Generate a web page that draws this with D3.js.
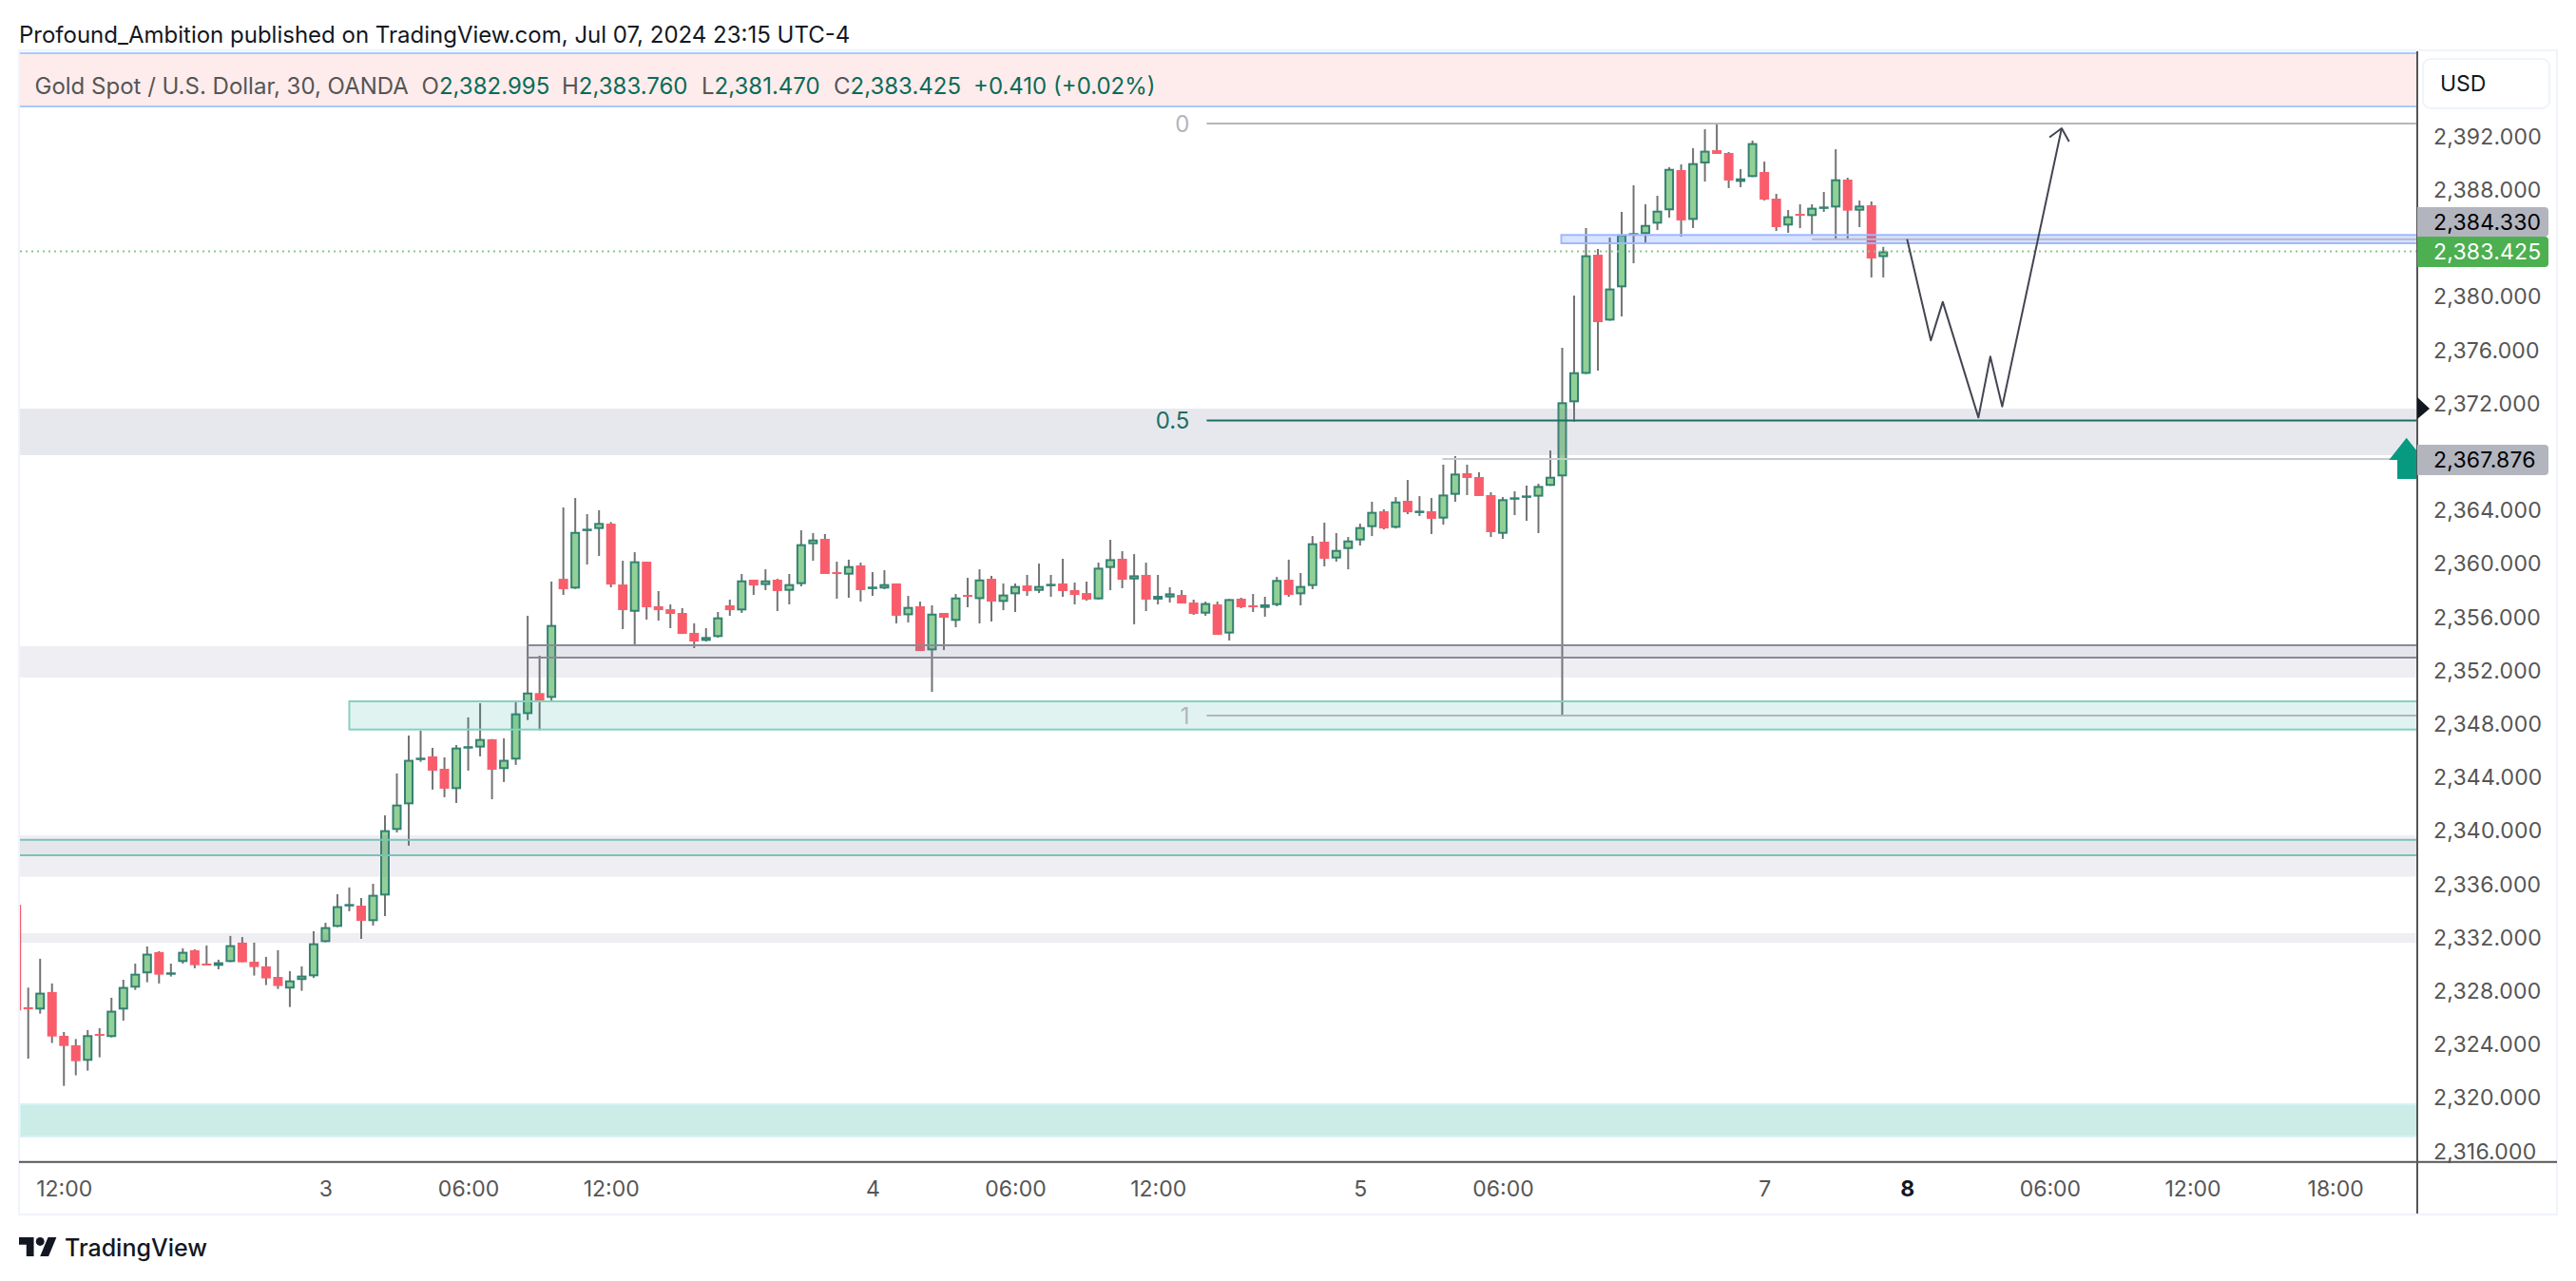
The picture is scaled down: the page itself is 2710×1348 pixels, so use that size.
<!DOCTYPE html>
<html>
<head>
<meta charset="utf-8">
<script src="https://cdn.jsdelivr.net/npm/d3@7"></script>
<style>
  html, body { margin: 0; background: #fff; }
  svg { display: block; }
  text { font-family: Inter, "Noto Sans", sans-serif; }
</style>
</head>
<body>
<div id="chart"></div>
<script>
// Bars run from index -1 (clipped at the left edge) to 156, 30 minutes each
const FIRST_BAR = -1;

const opens = [
  2334.49, 2326.81, 2326.64, 2327.95, 2324.67, 2323.96, 2322.80, 2324.81, 2324.58, 2326.64,
  2328.28, 2329.35, 2330.94, 2329.32, 2330.20, 2331.08, 2330.08, 2329.91, 2330.20, 2331.65,
  2330.22, 2329.87, 2329.08, 2328.21, 2328.85, 2329.13, 2331.69, 2332.83, 2334.45, 2334.42,
  2333.26, 2335.18, 2340.09, 2342.01, 2345.36, 2345.60, 2344.67, 2343.15, 2346.26, 2346.26,
  2346.88, 2344.65, 2345.36, 2348.77, 2350.34, 2349.98, 2358.90, 2358.17, 2362.58, 2362.63,
  2363.03, 2358.47, 2356.43, 2360.18, 2356.84, 2356.62, 2356.34, 2354.85, 2354.25, 2354.54,
  2356.91, 2356.53, 2358.83, 2358.43, 2358.83, 2358.00, 2358.50, 2361.49, 2361.89, 2359.40,
  2359.21, 2359.90, 2358.21, 2358.17, 2358.55, 2356.17, 2356.84, 2353.54, 2356.34, 2355.75,
  2357.69, 2357.38, 2358.90, 2357.17, 2357.74, 2358.40, 2358.00, 2358.43, 2358.55, 2358.05,
  2357.83, 2357.36, 2359.71, 2360.40, 2358.85, 2359.19, 2357.34, 2357.50, 2357.69, 2357.12,
  2356.29, 2356.98, 2354.80, 2357.41, 2356.91, 2356.72, 2356.93, 2358.83, 2357.74, 2358.36,
  2361.68, 2360.42, 2361.13, 2361.77, 2362.77, 2363.96, 2362.72, 2364.74, 2363.91, 2363.96,
  2363.41, 2365.19, 2366.81, 2366.52, 2365.17, 2362.27, 2364.86, 2365.07, 2365.05, 2365.86,
  2366.57, 2372.12, 2374.25, 2383.17, 2378.24, 2380.73, 2384.69, 2384.72, 2385.50, 2386.50,
  2389.51, 2385.78, 2390.01, 2391.00, 2390.79, 2388.63, 2388.99, 2389.37, 2387.37, 2385.36,
  2386.23, 2386.07, 2386.69, 2386.71, 2388.80, 2386.47, 2386.88, 2382.995,
];

const closes = [
  2326.57, 2326.66, 2327.90, 2324.62, 2323.91, 2322.77, 2324.72, 2324.69, 2326.55, 2328.33,
  2329.32, 2330.82, 2329.25, 2329.42, 2330.96, 2329.96, 2329.96, 2330.18, 2331.46, 2330.18,
  2329.82, 2328.97, 2328.40, 2328.82, 2329.18, 2331.60, 2332.81, 2334.38, 2334.54, 2333.28,
  2335.23, 2340.07, 2341.99, 2345.34, 2345.50, 2344.53, 2343.18, 2346.26, 2346.36, 2346.90,
  2344.60, 2345.34, 2348.82, 2350.38, 2349.79, 2355.44, 2358.12, 2362.41, 2362.65, 2363.08,
  2358.47, 2356.55, 2360.21, 2356.77, 2356.55, 2356.27, 2354.77, 2354.20, 2354.54, 2356.01,
  2356.55, 2358.78, 2358.40, 2358.78, 2357.98, 2358.50, 2361.49, 2361.84, 2359.26, 2359.26,
  2359.85, 2358.05, 2358.31, 2358.50, 2356.13, 2356.79, 2353.49, 2356.29, 2355.98, 2357.50,
  2357.55, 2358.85, 2357.19, 2357.72, 2358.36, 2357.98, 2358.36, 2358.52, 2357.98, 2357.69,
  2357.34, 2359.73, 2360.37, 2358.83, 2359.16, 2357.34, 2357.62, 2357.81, 2357.05, 2356.27,
  2357.08, 2354.70, 2357.38, 2356.77, 2356.77, 2356.98, 2358.81, 2357.69, 2358.36, 2361.56,
  2360.40, 2361.06, 2361.77, 2362.77, 2363.91, 2362.67, 2364.69, 2363.88, 2364.00, 2363.39,
  2365.21, 2366.78, 2366.45, 2365.10, 2362.39, 2364.86, 2365.00, 2365.14, 2365.85, 2366.54,
  2372.12, 2374.37, 2383.13, 2378.12, 2380.64, 2384.69, 2384.79, 2385.40, 2386.47, 2389.60,
  2385.74, 2390.03, 2390.96, 2390.72, 2388.73, 2388.89, 2391.53, 2387.30, 2385.24, 2386.05,
  2386.09, 2386.69, 2386.78, 2388.82, 2386.47, 2386.85, 2382.89, 2383.425,
];

const highs = [
  2334.49, 2328.28, 2330.44, 2328.59, 2324.96, 2324.43, 2325.10, 2325.24, 2327.52, 2328.87,
  2330.08, 2331.36, 2331.01, 2330.08, 2331.22, 2331.15, 2331.43, 2330.37, 2332.15, 2332.07,
  2331.65, 2330.58, 2331.08, 2329.51, 2329.87, 2332.50, 2333.14, 2335.28, 2335.78, 2334.99,
  2336.06, 2341.18, 2344.32, 2347.16, 2347.52, 2346.24, 2345.53, 2346.45, 2348.52, 2349.58,
  2346.90, 2346.95, 2349.73, 2356.13, 2353.14, 2358.69, 2364.24, 2364.95, 2363.74, 2364.03,
  2363.15, 2360.25, 2360.89, 2360.18, 2357.98, 2356.98, 2356.70, 2355.56, 2355.20, 2356.41,
  2357.34, 2359.26, 2358.83, 2359.61, 2358.90, 2359.26, 2362.53, 2362.32, 2362.25, 2360.18,
  2360.33, 2360.11, 2359.40, 2359.54, 2358.55, 2357.62, 2357.19, 2356.91, 2356.34, 2357.76,
  2358.97, 2359.61, 2359.12, 2358.55, 2358.55, 2359.19, 2360.04, 2359.19, 2360.40, 2358.62,
  2358.69, 2360.11, 2361.82, 2360.97, 2360.75, 2360.11, 2359.19, 2358.26, 2358.05, 2357.34,
  2357.19, 2357.19, 2357.38, 2357.48, 2357.76, 2357.55, 2359.04, 2360.33, 2359.33, 2362.10,
  2363.10, 2362.32, 2362.03, 2363.03, 2364.67, 2364.10, 2365.02, 2366.30, 2365.09, 2364.95,
  2367.45, 2368.09, 2367.45, 2366.88, 2365.38, 2365.02, 2365.45, 2365.88, 2366.02, 2368.51,
  2376.20, 2380.11, 2385.17, 2383.60, 2384.46, 2386.38, 2388.37, 2386.95, 2387.59, 2389.72,
  2389.94, 2391.15, 2392.57, 2392.93, 2390.86, 2389.58, 2391.72, 2390.15, 2387.73, 2386.52,
  2386.95, 2386.95, 2387.87, 2391.07, 2388.94, 2387.23, 2387.16, 2383.76,
];

const lows = [
  2326.57, 2322.96, 2326.33, 2324.13, 2320.92, 2321.71, 2322.06, 2323.06, 2324.55, 2325.81,
  2328.11, 2328.68, 2328.59, 2329.11, 2330.08, 2329.73, 2329.96, 2329.65, 2330.18, 2330.18,
  2329.18, 2328.47, 2328.18, 2326.83, 2328.04, 2329.01, 2331.67, 2332.81, 2334.00, 2331.93,
  2332.93, 2333.64, 2339.90, 2338.91, 2345.19, 2343.11, 2342.54, 2342.11, 2344.53, 2345.60,
  2342.39, 2343.68, 2344.96, 2348.32, 2347.54, 2349.67, 2357.69, 2358.14, 2359.97, 2360.61,
  2358.26, 2355.13, 2353.85, 2355.84, 2355.77, 2355.20, 2354.77, 2353.71, 2354.20, 2354.49,
  2356.13, 2356.34, 2357.69, 2358.05, 2356.48, 2356.98, 2358.33, 2360.25, 2359.26, 2357.41,
  2357.48, 2357.19, 2357.62, 2358.12, 2355.56, 2355.63, 2353.49, 2350.43, 2353.56, 2355.27,
  2356.77, 2355.56, 2355.70, 2356.55, 2356.41, 2357.62, 2357.83, 2357.55, 2357.55, 2356.98,
  2357.26, 2357.34, 2358.05, 2358.19, 2355.49, 2356.48, 2356.98, 2357.12, 2357.05, 2356.20,
  2356.13, 2354.70, 2354.28, 2356.70, 2356.41, 2356.06, 2356.84, 2357.55, 2356.91, 2358.12,
  2359.83, 2360.18, 2359.61, 2361.39, 2362.10, 2362.60, 2362.67, 2363.74, 2363.60, 2362.25,
  2362.96, 2364.67, 2365.17, 2365.10, 2362.03, 2361.89, 2363.67, 2363.24, 2362.32, 2365.86,
  2348.60, 2370.67, 2374.23, 2374.49, 2378.22, 2378.55, 2382.53, 2384.03, 2385.02, 2385.95,
  2384.53, 2385.17, 2388.65, 2390.72, 2388.16, 2388.23, 2388.99, 2387.23, 2384.95, 2384.81,
  2385.17, 2384.60, 2386.38, 2384.31, 2384.38, 2385.24, 2381.47, 2381.47,
];

const priceTicks = [2392, 2388, 2380, 2376, 2372, 2364, 2360, 2356, 2352, 2348, 2344, 2340, 2336, 2332, 2328, 2324, 2320, 2316];
const timeTicks = [3, 25, 37, 49, 71, 83, 95, 112, 124, 146, 158, 170, 182, 194];
const timeLabels = ['12:00', '3', '06:00', '12:00', '4', '06:00', '12:00', '5', '06:00', '7', '8', '06:00', '12:00', '18:00'];

// Zones as [top price, bottom price]
const legendBand = [2398.26, 2394.28];
const greyBands = [[2371.64, 2368.16], [2353.85, 2351.50], [2339.69, 2336.58], [2332.36, 2331.64]];
const greyInnerBands = [[2353.92, 2353.0], [2339.35, 2338.19]];
const orderBlock = [2349.72, 2347.61];
const blueZone = [2384.65, 2384.03];
const tealBand = [2319.55, 2317.12];

const fibLevels = ['0', '0.5', '1'];
const fibPrices = [2392.99, 2370.75, 2348.65];
const ZONE_START = 27;   // bar where the order block starts
const FIB_START = 99.1;
const BLUE_START = 129;

// Hand-drawn projection path: bar index, price
const pathBars = [158, 160, 161, 164, 165, 166, 171];
const pathPrices = [2384.34, 2376.75, 2379.64, 2370.98, 2375.54, 2371.81, 2392.64];

const LAST_CLOSE = 2383.425;
const RAY_HIGH = 2367.876;
const RAY_ZONE = 2384.33;

const W = 2710, H = 1348;
const pane = { left: 21, right: 2543, top: 54, bottom: 1223 };

const x = d3.scaleLinear().domain([0, 156]).range([29.7, 1981.26]);
const y = d3.scaleLinear().domain([2392, 2316]).range([144, 1211.8]);

const svg = d3.select('#chart').append('svg').attr('width', W).attr('height', H);
svg.append('defs').append('clipPath').attr('id', 'pane')
  .append('rect')
  .attr('x', pane.left).attr('y', pane.top)
  .attr('width', pane.right - pane.left).attr('height', pane.bottom - pane.top);

// Outer frame
svg.append('rect')
  .attr('x', 20).attr('y', 53).attr('width', 2670).attr('height', 1225)
  .attr('fill', '#fff').attr('stroke', '#f0f3fa').attr('stroke-width', 2);

const plot = svg.append('g').attr('clip-path', 'url(#pane)');

// Candles
const candles = opens.map((o, i) => ({
  bar: i + FIRST_BAR, open: o, close: closes[i], high: highs[i], low: lows[i],
}));

const candleG = plot.append('g').attr('class', 'candles');
candleG.selectAll('line')
  .data(candles)
  .join('line')
  .attr('x1', d => x(d.bar)).attr('x2', d => x(d.bar))
  .attr('y1', d => y(d.high)).attr('y2', d => y(d.low))
  .attr('stroke', '#737373').attr('stroke-width', 2);

candleG.selectAll('rect')
  .data(candles)
  .join('rect')
  .each(function (d) {
    const up = d.close >= d.open;
    const top = y(Math.max(d.open, d.close));
    const bot = y(Math.min(d.open, d.close));
    const inset = up ? 1 : 0;
    const r = d3.select(this)
      .attr('x', x(d.bar) - 5 + inset)
      .attr('width', 10 - inset * 2)
      .attr('y', top + inset)
      .attr('height', Math.max(up ? 0.5 : 2, bot - top - inset * 2));
    if (up) r.attr('fill', '#93d095').attr('stroke', '#338173').attr('stroke-width', 2);
    else r.attr('fill', '#f95d6c');
  });

function band(g, [top, bottom], fill, x0 = pane.left) {
  return g.append('rect')
    .attr('x', x0).attr('width', pane.right - x0)
    .attr('y', y(top)).attr('height', y(bottom) - y(top))
    .attr('fill', fill);
}

function ray(g, price, x0, stroke) {
  return g.append('line')
    .attr('x1', x0).attr('x2', pane.right)
    .attr('y1', y(price)).attr('y2', y(price))
    .attr('stroke', stroke).attr('stroke-width', 2);
}

// Zones sit above the candles, translucent
const zones = plot.append('g').attr('class', 'zones');
band(zones, legendBand, '#feecec');
ray(zones, legendBand[0], pane.left, '#a9c9fd');
ray(zones, legendBand[1], pane.left, '#a9c9fd');

greyBands.forEach((b, i) => band(zones, b, `rgba(120,126,155,${i === 0 ? 0.18 : 0.12})`));

band(zones, greyInnerBands[0], 'rgba(120,126,155,0.08)', x(42));
ray(zones, greyInnerBands[0][0], x(42), '#8a8a93');
ray(zones, greyInnerBands[0][1], x(42), '#8a8a93');
band(zones, greyInnerBands[1], 'rgba(120,126,155,0.08)');
ray(zones, greyInnerBands[1][0], pane.left, '#7ac3b6');
ray(zones, greyInnerBands[1][1], pane.left, '#7ac3b6');

band(zones, tealBand, 'rgba(0,160,135,0.2)')
  .attr('stroke', '#d8f3f4').attr('stroke-width', 2);

band(zones, orderBlock, 'rgba(8,153,129,0.12)', x(ZONE_START))
  .attr('stroke', '#86d0c0').attr('stroke-width', 2);

band(zones, blueZone, 'rgba(41,98,255,0.18)', x(BLUE_START) - 1)
  .attr('stroke', '#9fb9fb').attr('stroke-width', 2);
ray(zones, RAY_ZONE, x(150), '#b5b9c4');
ray(zones, RAY_HIGH, x(119) - 1, '#c9cacf');

// Last price dotted line
plot.append('line')
  .attr('x1', pane.left).attr('x2', pane.right)
  .attr('y1', y(LAST_CLOSE)).attr('y2', y(LAST_CLOSE))
  .attr('stroke', '#86c98c').attr('stroke-width', 2).attr('stroke-dasharray', '2 4');

// Fib levels
const fibColors = ['#b5b7bb', '#1e6f63', '#b2b5be'];
const fibG = plot.append('g').attr('class', 'fib');
fibPrices.forEach((p, i) => {
  ray(fibG, p, x(FIB_START), fibColors[i]);
  fibG.append('text')
    .attr('x', x(FIB_START) - 18).attr('y', y(p))
    .attr('dy', '0.36em').attr('text-anchor', 'end')
    .attr('font-size', 24)
    .attr('fill', i === 1 ? fibColors[1] : '#b2b5be')
    .text(fibLevels[i]);
});

// Projection path with an open arrow head
const pathPoints = pathBars.map((b, i) => [x(b), y(pathPrices[i])]);
const drawing = plot.append('g').attr('fill', 'none')
  .attr('stroke', '#434651').attr('stroke-width', 2).attr('stroke-linejoin', 'round');
drawing.append('path').attr('d', d3.line()(pathPoints));
const [tipX, tipY] = pathPoints[pathPoints.length - 1];
const [prevX, prevY] = pathPoints[pathPoints.length - 2];
const angle = Math.atan2(tipY - prevY, tipX - prevX);
const headLen = 16;
drawing.append('path').attr('d', d3.line()([
  [tipX - headLen * Math.cos(angle - 0.72), tipY - headLen * Math.sin(angle - 0.72)],
  [tipX, tipY],
  [tipX - headLen * Math.cos(angle + 0.72), tipY - headLen * Math.sin(angle + 0.72)],
]));

// Long-position arrow at the pane edge
plot.append('path')
  .attr('d', 'M2531.7 460.7 L2550 484 L2543 484 L2543 504 L2522 504 L2522 484 L2513.3 484 Z')
  .attr('fill', '#089981');

// Axis lines
svg.append('line').attr('x1', 20).attr('x2', 2690).attr('y1', 1222.7).attr('y2', 1222.7)
  .attr('stroke', '#555').attr('stroke-width', 2);
svg.append('line').attr('x1', pane.right).attr('x2', pane.right).attr('y1', 54).attr('y2', 1277)
  .attr('stroke', '#555').attr('stroke-width', 2);

// Price axis
const priceAxis = svg.append('g')
  .attr('transform', `translate(${pane.right},0)`)
  .call(d3.axisRight(y).tickValues(priceTicks).tickFormat(d3.format(',.3f')).tickSize(0).tickPadding(17));
priceAxis.select('.domain').remove();
priceAxis.selectAll('text').attr('font-size', 23).attr('letter-spacing', 0.2).attr('fill', '#555')
  .style('font-family', 'Inter, sans-serif');

// Time axis
const timeAxis = svg.append('g')
  .attr('transform', 'translate(0,1222.7)')
  .call(d3.axisBottom(x).tickValues(timeTicks).tickFormat((d, i) => timeLabels[i]).tickSize(0).tickPadding(20));
timeAxis.select('.domain').remove();
timeAxis.selectAll('text').attr('font-size', 23).attr('fill', '#555')
  .style('font-family', 'Inter, sans-serif')
  .filter((d, i) => timeLabels[i] === '8').attr('font-weight', 700).attr('fill', '#131722');

// Price labels
const priceLabels = [
  { price: '2,384.330', top: 218, bottom: 249, fill: '#b2b5be', color: '#000' },
  { price: '2,383.425', top: 249, bottom: 281, fill: '#4caf50', color: '#fff' },
  { price: '2,367.876', top: 468, bottom: 500, fill: '#b2b5be', color: '#000' },
];
const labelG = svg.append('g');
priceLabels.forEach(l => {
  labelG.append('path')
    .attr('d', `M${pane.right} ${l.top} H2677 q4 0 4 4 V${l.bottom - 4} q0 4 -4 4 H${pane.right} Z`)
    .attr('fill', l.fill);
  labelG.append('text')
    .attr('x', 2560).attr('y', (l.top + l.bottom) / 2).attr('dy', '0.36em')
    .attr('font-size', 23).attr('letter-spacing', 0.2).attr('fill', l.color).text(l.price);
});

// Black pointer on the axis
svg.append('path').attr('d', 'M2543 418 L2556 430 L2543 441 Z').attr('fill', '#131722');

// USD button
svg.append('rect')
  .attr('x', 2549).attr('y', 62).attr('width', 133).attr('height', 52).attr('rx', 8)
  .attr('fill', '#fff').attr('stroke', '#f0f3fa').attr('stroke-width', 2);
svg.append('text').attr('x', 2567).attr('y', 88).attr('dy', '0.36em')
  .attr('font-size', 23).attr('fill', '#131722').text('USD');

// Header
svg.append('text').attr('x', 20).attr('y', 36).attr('dy', '0.36em')
  .attr('font-size', 24).attr('fill', '#131722')
  .text('Profound_Ambition published on TradingView.com, Jul 07, 2024 23:15 UTC-4');

// Legend row
const legendGrey = '#555';
const legendGreen = '#0a6b57';
const legendParts = [
  { x: 36.5, key: 'Gold Spot / U.S. Dollar, 30, OANDA', val: '' },
  { x: 443.6, key: 'O', val: '2,382.995' },
  { x: 591, key: 'H', val: '2,383.760' },
  { x: 738, key: 'L', val: '2,381.470' },
  { x: 877, key: 'C', val: '2,383.425' },
  { x: 1024, key: '', val: '+0.410 (+0.02%)' },
];
const legend = svg.append('g').attr('font-size', 24);
legendParts.forEach(p => {
  const t = legend.append('text').attr('x', p.x).attr('y', 90.5).attr('dy', '0.36em');
  t.append('tspan').attr('fill', legendGrey).text(p.key);
  t.append('tspan').attr('fill', legendGreen).text(p.val);
});

// Footer logo
const logo = svg.append('g').attr('fill', '#131722').attr('transform', 'translate(20,1297.6) scale(1.11)');
logo.append('path').attr('d', 'M14 22H7V11H0V4h14v18zM28 22h-8l7.5-18h8L28 22z');
logo.append('circle').attr('cx', 20).attr('cy', 8).attr('r', 4);
svg.append('text').attr('x', 68).attr('y', 1313).attr('dy', '0.36em')
  .attr('font-size', 25).attr('font-weight', 500).attr('fill', '#131722').text('TradingView');
</script>
</body>
</html>
